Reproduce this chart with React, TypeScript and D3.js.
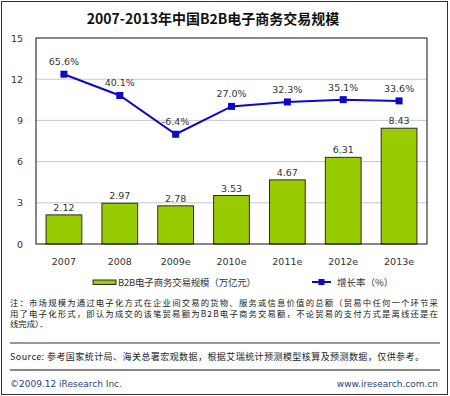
import React from 'react'
import * as d3 from 'd3'

const years = ['2007', '2008', '2009e', '2010e', '2011e', '2012e', '2013e']
const tradeScale = [2.12, 2.97, 2.78, 3.53, 4.67, 6.31, 8.43]
const growthRate = [65.6, 40.1, -6.4, 27.0, 32.3, 35.1, 33.6]
const yTicks = [0, 3, 6, 9, 12, 15]

const title = '2007-2013年中国B2B电子商务交易规模'
const legendBar = 'B2B电子商务交易规模（万亿元）'
const legendLine = '增长率（%）'
const notes = [
  '注：市场规模为通过电子化方式在企业间交易的货物、服务或信息价值的总额（贸易中任何一个环节采',
  '用了电子化形式，即认为成交的该笔贸易额为B2B电子商务交易额，不论贸易的支付方式是离线还是在',
  '线完成）．',
]
const source = 'Source: 参考国家统计局、海关总署宏观数据，根据艾瑞统计预测模型核算及预测数据，仅供参考。'
const copyright = '©2009.12 iResearch Inc.'
const website = 'www.iresearch.com.cn'

const W = 450
const H = 396
const plot = { left: 36, right: 427, top: 38, bottom: 244 }
const font = '"DejaVu Sans", sans-serif'
const cjk = '"Noto Sans CJK SC", sans-serif'

function App() {
  const x = d3.scaleBand<string>()
    .domain(years)
    .range([plot.left, plot.right])
    .paddingInner(0.36)
    .paddingOuter(0.18)
  const y = d3.scaleLinear().domain([0, 15]).range([plot.bottom, plot.top])
  // hidden secondary axis for the growth rate
  const y2 = d3.scaleLinear().domain([-138, 109]).range([plot.bottom, plot.top])
  const cx = (d: string) => (x(d) as number) + x.bandwidth() / 2

  const line = d3.line<number>()
    .x((_, i) => cx(years[i]))
    .y(d => y2(d))

  return (
    <svg width={W} height={H} style={{ display: 'block', position: 'absolute', left: 0, top: 0 }}>
      <style>{'body{margin:0}'}</style>
      <rect x={1.5} y={1.5} width={W - 4} height={H - 3} fill="#fff" stroke="#333" strokeWidth={1} />
      <text x={213} y={24} textAnchor="middle" fontFamily={cjk} fontWeight="bold" fontSize={14} fill="#111">{title}</text>

      {yTicks.filter(t => t > 0 && t < 15).map(t => (
        <line key={t} x1={plot.left} x2={plot.right} y1={y(t)} y2={y(t)} stroke="#c8c8c8" strokeWidth={1} />
      ))}
      {yTicks.map(t => (
        <text key={t} x={23} y={y(t) + 3.5} textAnchor="end" fontFamily={font} fontSize={9.5} fill="#333">{t}</text>
      ))}

      {tradeScale.map((v, i) => (
        <g key={years[i]}>
          <rect x={x(years[i])} y={y(v)} width={x.bandwidth()} height={plot.bottom - y(v)}
            fill="#99cc00" stroke="#2b2b2b" strokeWidth={1} />
          <text x={cx(years[i])} y={y(v) - 4} textAnchor="middle" fontFamily={font} fontSize={9.5} fill="#333">{v.toFixed(2)}</text>
        </g>
      ))}
      <rect x={plot.left} y={plot.top} width={plot.right - plot.left} height={plot.bottom - plot.top}
        fill="none" stroke="#111" strokeWidth={1} />

      <path d={line(growthRate) ?? ''} fill="none" stroke="#0a0ac8" strokeWidth={2} />
      {growthRate.map((v, i) => (
        <g key={years[i]}>
          <rect x={cx(years[i]) - 3.5} y={y2(v) - 3.5} width={7} height={7} fill="#0a0ac8" />
          <text x={cx(years[i])} y={y2(v) - 9} textAnchor="middle" fontFamily={font} fontSize={9.5} fill="#333">{v.toFixed(1)}%</text>
        </g>
      ))}

      {years.map(d => (
        <text key={d} x={cx(d)} y={265} textAnchor="middle" fontFamily={font} fontSize={9.5} fill="#333">{d}</text>
      ))}

      <rect x={93} y={280} width={23} height={4.5} fill="#99cc00" stroke="#2b2b2b" strokeWidth={1} />
      <text x={118} y={285.5} fontFamily={cjk} fontSize={9.5} fill="#333" textLength={138}>{legendBar}</text>
      <line x1={312} x2={331} y1={282} y2={282} stroke="#0a0ac8" strokeWidth={2} />
      <rect x={318.5} y={279} width={6} height={6} fill="#0a0ac8" />
      <text x={337} y={285.5} fontFamily={cjk} fontSize={9.5} fill="#333">{legendLine}</text>

      {notes.map((n, i) => (
        <text key={i} x={10} y={306 + i * 10.5} fontFamily={cjk} fontSize={8.4} fill="#222"
          textLength={i < 2 ? 428 : undefined}>{n}</text>
      ))}
      <line x1={10} x2={440} y1={343} y2={343} stroke="#777" strokeWidth={1.5} />
      <text x={10} y={359.5} fontFamily={cjk} fontSize={9} fill="#222" textLength={414}>{source}</text>
      <line x1={10} x2={440} y1={370} y2={370} stroke="#111" strokeWidth={1} />
      <text x={10} y={386.5} fontFamily={font} fontSize={9} fill="#2a3f7a">{copyright}</text>
      <text x={438} y={386.5} textAnchor="end" fontFamily={font} fontSize={9} fill="#2a3f7a">{website}</text>
    </svg>
  )
}

export default App
